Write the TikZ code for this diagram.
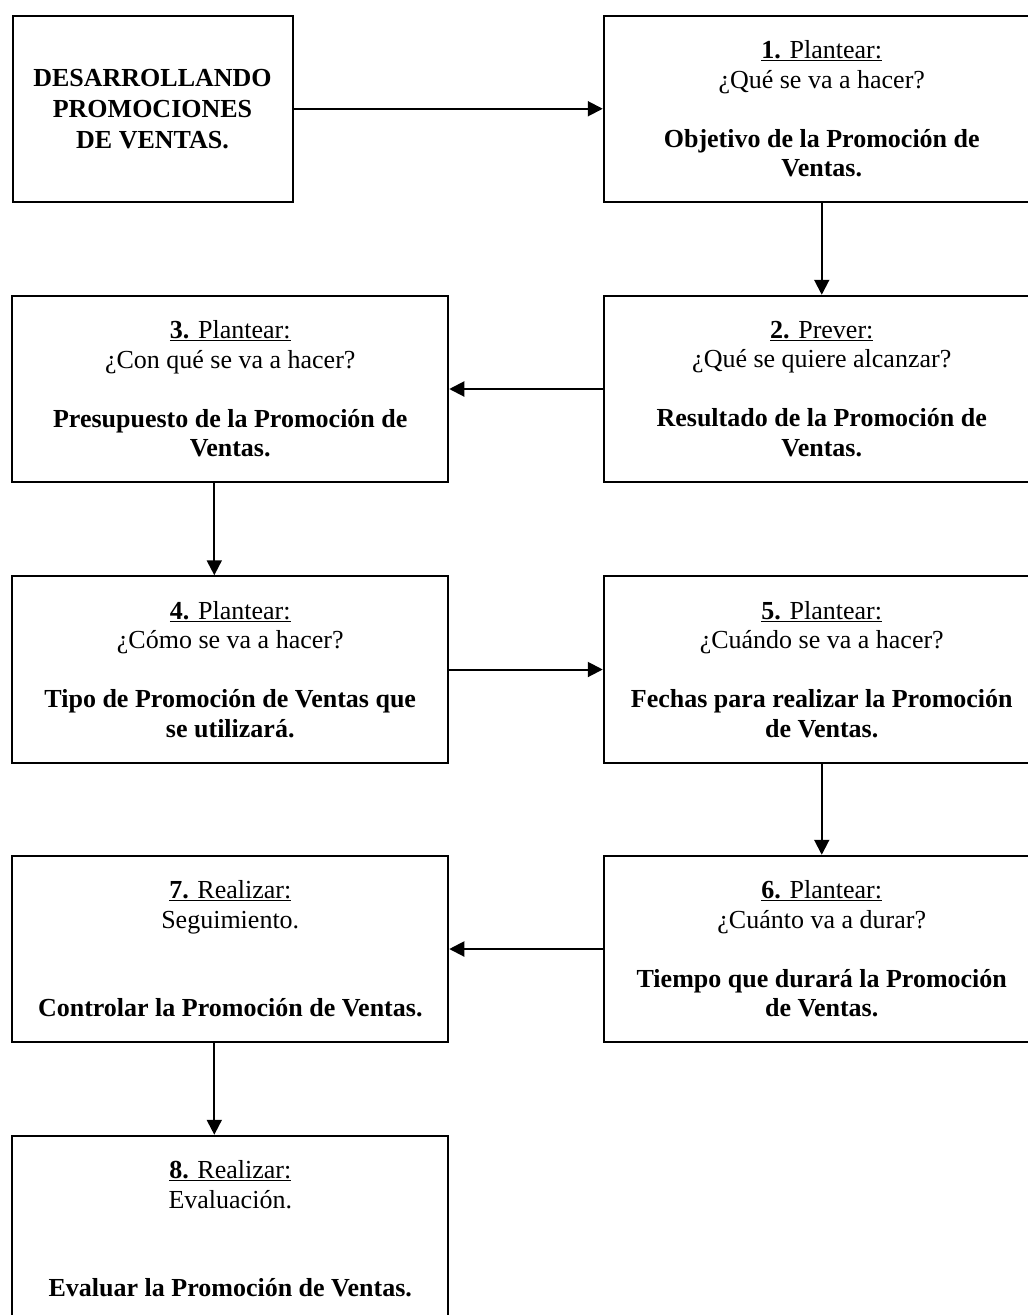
\documentclass[tikz,border=0pt]{standalone}
\usepackage{fontspec}
\setmainfont{Liberation Serif}
\usetikzlibrary{arrows.meta}
\begin{document}
\begin{tikzpicture}[x=1pt,y=-1pt,
  box/.style={draw, line width=2pt, minimum height=186.5pt, inner sep=0pt, align=center,
    font=\fontsize{26}{29.5}\selectfont},
  colbox/.style={box, minimum width=436pt},
  arr/.style={line width=2pt, -{Triangle[length=15pt,width=15pt]}}]
\useasboundingbox (0,0) rectangle (1028,1315);
\fill[white] (0,0) rectangle (1028,1315);
\clip (0,0) rectangle (1028,1315);
\node[box, minimum width=280pt] (b0) at (152.5,108.75)
  {\textbf{DESARROLLANDO}\\[1.5pt]\textbf{PROMOCIONES}\\[1.5pt]\textbf{DE VENTAS.}};
\node[colbox] (b1) at (821.75,108.75)
  {\underline{\textbf{1.} Plantear:}\\¿Qué se va a hacer?\\[29.5pt]\textbf{Objetivo de la Promoción de}\\\textbf{Ventas.}};
\node[colbox] (b2) at (821.75,389)
  {\underline{\textbf{2.} Prever:}\\¿Qué se quiere alcanzar?\\[29.5pt]\textbf{Resultado de la Promoción de}\\\textbf{Ventas.}};
\node[colbox] (b3) at (230.25,389)
  {\underline{\textbf{3.} Plantear:}\\¿Con qué se va a hacer?\\[29.5pt]\textbf{Presupuesto de la Promoción de}\\\textbf{Ventas.}};
\node[colbox] (b4) at (230.25,669.5)
  {\underline{\textbf{4.} Plantear:}\\¿Cómo se va a hacer?\\[29.5pt]\textbf{Tipo de Promoción de Ventas que}\\\textbf{se utilizará.}};
\node[colbox] (b5) at (821.75,669.5)
  {\underline{\textbf{5.} Plantear:}\\¿Cuándo se va a hacer?\\[29.5pt]\textbf{Fechas para realizar la Promoción}\\\textbf{de Ventas.}};
\node[colbox] (b6) at (821.75,949)
  {\underline{\textbf{6.} Plantear:}\\¿Cuánto va a durar?\\[29.5pt]\textbf{Tiempo que durará la Promoción}\\\textbf{de Ventas.}};
\node[colbox] (b7) at (230.25,949)
  {\underline{\textbf{7.} Realizar:}\\Seguimiento.\\[59pt]\textbf{Controlar la Promoción de Ventas.}};
\node[colbox] (b8) at (230.25,1229)
  {\underline{\textbf{8.} Realizar:}\\Evaluación.\\[59pt]\textbf{Evaluar la Promoción de Ventas.}};
\coordinate (xl) at (214.3,0);
\draw[arr] (b0.east) -- (b1.west);
\draw[arr] (b1.south) -- (b2.north);
\draw[arr] (b2.west) -- (b3.east);
\draw[arr] (b3.south -| xl) -- (b4.north -| xl);
\draw[arr] (b4.east) -- (b5.west);
\draw[arr] (b5.south) -- (b6.north);
\draw[arr] (b6.west) -- (b7.east);
\draw[arr] (b7.south -| xl) -- (b8.north -| xl);
\end{tikzpicture}
\end{document}
